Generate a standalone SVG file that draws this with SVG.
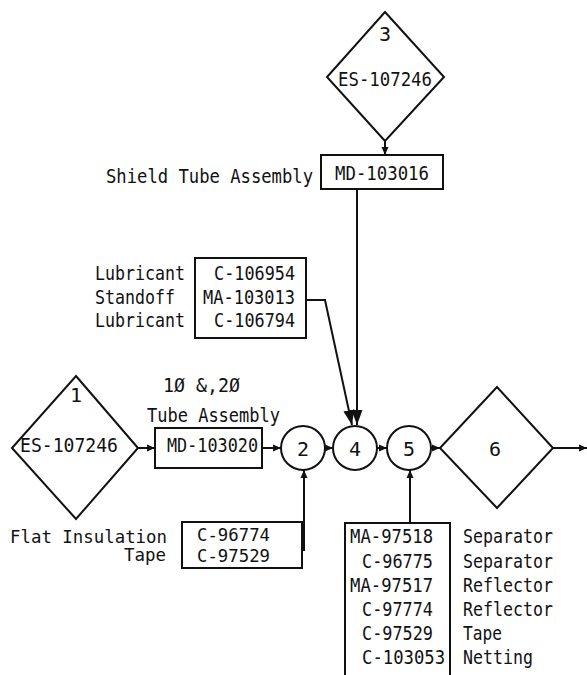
<svg xmlns="http://www.w3.org/2000/svg" width="587" height="675" viewBox="0 0 587 675">
<style>
.t{font-family:"DejaVu Sans Mono","Liberation Mono",monospace;font-size:20px;fill:#111}
.f{font-size:17px}
.m{text-anchor:middle}
.e{text-anchor:end}
.s{fill:none;stroke:#111;stroke-width:2}
.c{fill:none;stroke:#111;stroke-width:2}
</style>
<defs>
<marker id="a" markerUnits="userSpaceOnUse" markerWidth="10" markerHeight="8" refX="8" refY="4" orient="auto"><path d="M0,0.5 L8,4 L0,7.5 z" fill="#111"/></marker>
<marker id="b" markerUnits="userSpaceOnUse" markerWidth="16" markerHeight="12" refX="15" refY="6" orient="auto"><path d="M0,0.5 L15,6 L0,11.5 z" fill="#111"/></marker>
</defs>
<rect width="587" height="675" fill="#fff"/>

<g id="n3">
<polygon class="s" points="385,12 444,77 385,141 327,77"/>
<text class="t m" x="385" y="41">3</text>
<text class="t m" x="385" y="86" textLength="94" lengthAdjust="spacingAndGlyphs">ES-107246</text>
</g>
<g id="shield">
<rect class="s" x="321" y="155" width="122" height="34"/>
<text class="t m" x="382" y="180" textLength="94" lengthAdjust="spacingAndGlyphs">MD-103016</text>
<text class="t e" x="313" y="183" textLength="207" lengthAdjust="spacingAndGlyphs">Shield Tube Assembly</text>
</g>
<g id="lub">
<rect class="s" x="195" y="258" width="111" height="80"/>
<text class="t e" x="295" y="280" textLength="81" lengthAdjust="spacingAndGlyphs">C-106954</text>
<text class="t e" x="295" y="304" textLength="92" lengthAdjust="spacingAndGlyphs">MA-103013</text>
<text class="t e" x="295" y="327" textLength="81" lengthAdjust="spacingAndGlyphs">C-106794</text>
<text class="t" x="95" y="280" textLength="90" lengthAdjust="spacingAndGlyphs">Lubricant</text>
<text class="t" x="95" y="304" textLength="80" lengthAdjust="spacingAndGlyphs">Standoff</text>
<text class="t" x="95" y="327" textLength="90" lengthAdjust="spacingAndGlyphs">Lubricant</text>
</g>
<g id="n1">
<polygon class="s" points="76,376 138,448 76,519 12,448"/>
<text class="t m" x="76" y="402">1</text>
<text class="t" x="20" y="452" textLength="98" lengthAdjust="spacingAndGlyphs">ES-107246</text>
</g>
<g id="tube">
<text class="t" x="163" y="392" textLength="77" lengthAdjust="spacingAndGlyphs">1Ø &amp;‚2Ø</text>
<text class="t" x="147" y="422" textLength="133" lengthAdjust="spacingAndGlyphs">Tube Assembly</text>
<rect class="s" x="155" y="428" width="107" height="40"/>
<text class="t" x="167" y="452" textLength="91" lengthAdjust="spacingAndGlyphs">MD-103020</text>
</g>
<g id="n2">
<circle class="s" cx="303" cy="448" r="22"/>
<text class="t m" x="303" y="456">2</text>
</g>
<g id="n4">
<circle class="s" cx="355" cy="448" r="22"/>
<text class="t m" x="355" y="456">4</text>
</g>
<g id="n5">
<circle class="s" cx="409" cy="448" r="22"/>
<text class="t m" x="409" y="456">5</text>
</g>
<g id="n6">
<polygon class="s" points="497,387 553,448 497,508 440,448"/>
<text class="t m" x="495" y="456">6</text>
</g>
<g id="flat">
<rect class="s" x="182" y="522" width="120" height="46"/>
<text class="t f" x="197" y="541" textLength="73" lengthAdjust="spacingAndGlyphs">C-96774</text>
<text class="t f" x="197" y="562" textLength="73" lengthAdjust="spacingAndGlyphs">C-97529</text>
<text class="t f" x="10" y="543" textLength="157" lengthAdjust="spacingAndGlyphs">Flat Insulation</text>
<text class="t f e" x="166" y="561" textLength="42" lengthAdjust="spacingAndGlyphs">Tape</text>
</g>
<g id="parts">
<path class="s" d="M345,675 V523 H450 V675"/>
<text class="t" x="350" y="543" textLength="83" lengthAdjust="spacingAndGlyphs">MA-97518</text>
<text class="t" x="362" y="568" textLength="71" lengthAdjust="spacingAndGlyphs">C-96775</text>
<text class="t" x="350" y="592" textLength="83" lengthAdjust="spacingAndGlyphs">MA-97517</text>
<text class="t" x="362" y="616" textLength="71" lengthAdjust="spacingAndGlyphs">C-97774</text>
<text class="t" x="362" y="640" textLength="71" lengthAdjust="spacingAndGlyphs">C-97529</text>
<text class="t" x="362" y="664" textLength="83" lengthAdjust="spacingAndGlyphs">C-103053</text>
<text class="t" x="463" y="543" textLength="90" lengthAdjust="spacingAndGlyphs">Separator</text>
<text class="t" x="463" y="568" textLength="90" lengthAdjust="spacingAndGlyphs">Separator</text>
<text class="t" x="463" y="592" textLength="90" lengthAdjust="spacingAndGlyphs">Reflector</text>
<text class="t" x="463" y="616" textLength="90" lengthAdjust="spacingAndGlyphs">Reflector</text>
<text class="t" x="463" y="640" textLength="39" lengthAdjust="spacingAndGlyphs">Tape</text>
<text class="t" x="463" y="664" textLength="70" lengthAdjust="spacingAndGlyphs">Netting</text>
</g>
<g id="connectors">
<path class="c" d="M385,141 V155" marker-end="url(#a)"/>
<path class="c" d="M357,189 V425" marker-end="url(#b)"/>
<path class="c" d="M306,300 H325 L352,425" marker-end="url(#b)"/>
<path class="c" d="M138,448 H155" marker-end="url(#a)"/>
<path class="c" d="M262,448 H281" marker-end="url(#a)"/>
<path class="c" d="M325,448 H333" marker-end="url(#a)"/>
<path class="c" d="M377,448 H387" marker-end="url(#a)"/>
<path class="c" d="M431,448 H440" marker-end="url(#a)"/>
<path class="c" d="M553,448 H587" marker-end="url(#a)"/>
<path class="c" d="M302,550 H304 V470" marker-end="url(#a)"/>
<path class="c" d="M410,523 V470" marker-end="url(#a)"/>
</g>
</svg>
